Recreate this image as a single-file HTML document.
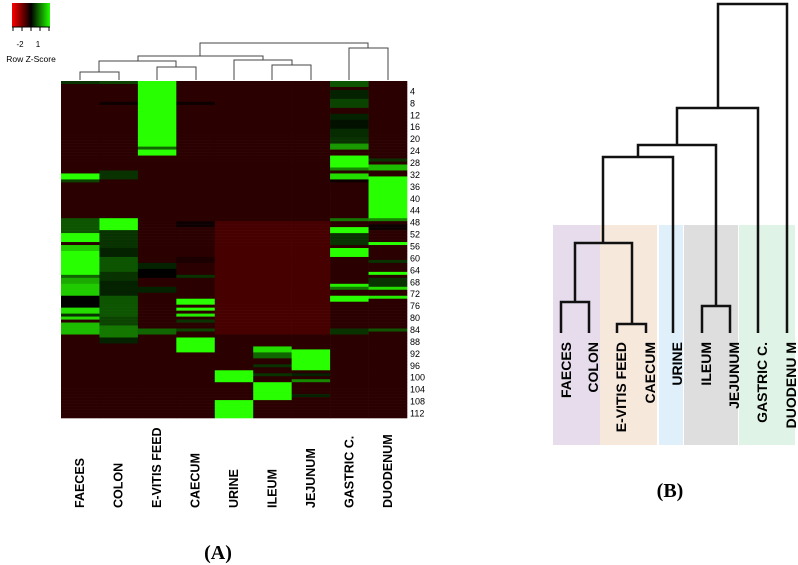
<!DOCTYPE html>
<html><head><meta charset="utf-8"><style>
html,body{margin:0;padding:0;background:#fff;width:798px;height:565px;overflow:hidden}
svg{display:block}
</style></head><body>
<svg id="fig" width="798" height="565" xmlns="http://www.w3.org/2000/svg">
<defs><linearGradient id="lg" x1="0" x2="1"><stop offset="0" stop-color="#ff0000"/><stop offset="0.5" stop-color="#000"/><stop offset="1" stop-color="#22ff00"/></linearGradient></defs>
<g>
<rect x="12" y="3" width="38" height="24" fill="url(#lg)"/>
<g stroke="#000" stroke-width="1"><line x1="12" y1="27" x2="50" y2="27"/><line x1="13" y1="27" x2="13" y2="31"/><line x1="22" y1="27" x2="22" y2="31"/><line x1="31" y1="27" x2="31" y2="31"/><line x1="40" y1="27" x2="40" y2="31"/><line x1="49" y1="27" x2="49" y2="31"/></g>
<text x="20" y="47" font-family="Liberation Sans, sans-serif" font-size="8" text-anchor="middle">-2</text>
<text x="38" y="47" font-family="Liberation Sans, sans-serif" font-size="8" text-anchor="middle">1</text>
<text x="31" y="62" font-family="Liberation Sans, sans-serif" font-size="8.5" text-anchor="middle">Row Z-Score</text>
</g>
<g id="heat"></g>
<g id="rowlabels"></g>
<g id="collabels"></g>
<g fill="none" stroke="#444" stroke-width="1">
<path d="M80 80V72H119V80M157 80V67H196V80M99 72V61H176V67M272 80V65H311V80M234 80V60H292V65M138 61V56H263V60M349 80V48H388V80M200 56V43H368V48"/>
</g>
<text x="218" y="559" font-family="Liberation Serif, serif" font-size="20" font-weight="bold" text-anchor="middle">(A)</text>

<g>
<rect x="553" y="225" width="47" height="220" fill="#e6dcec"/>
<rect x="600" y="225" width="57" height="220" fill="#f7e8dc"/>
<rect x="659" y="225" width="24" height="220" fill="#dff0fa"/>
<rect x="684" y="225" width="54" height="220" fill="#dedede"/>
<rect x="739" y="225" width="56" height="220" fill="#dff3e6"/>
<path d="M561 333V302H589V333M617 333V324H646V333M575 302V243H632V324M603 243V157H673V333M638 157V145H716V306M702 333V306H730V333M677 145V108H758V333M718 108V4H787V333" fill="none" stroke="#111" stroke-width="2.5"/>
<g font-family="Liberation Sans, sans-serif" font-size="14" font-weight="bold" text-anchor="end">
<text transform="translate(571,342) rotate(-90)">FAECES</text>
<text transform="translate(598,342) rotate(-90)">COLON</text>
<text transform="translate(626,342) rotate(-90)">E-VITIS FEED</text>
<text transform="translate(655,342) rotate(-90)">CAECUM</text>
<text transform="translate(682,342) rotate(-90)">URINE</text>
<text transform="translate(711,342) rotate(-90)">ILEUM</text>
<text transform="translate(739,342) rotate(-90)">JEJUNUM</text>
<text transform="translate(767,342) rotate(-90)">GASTRIC C.</text>
<text transform="translate(796,342) rotate(-90)">DUODENU M</text>
</g>
<text x="670" y="497" font-family="Liberation Serif, serif" font-size="20" font-weight="bold" text-anchor="middle">(B)</text>
</g>
</svg>
<script>
const columns = ["FAECES","COLON","E-VITIS FEED","CAECUM","URINE","ILEUM","JEJUNUM","GASTRIC C.","DUODENUM"];
const rowTicks = [4,8,12,16,20,24,28,32,36,40,44,48,52,56,60,64,68,72,76,80,84,88,92,96,100,104,108,112];
const nRows = 113;
const baseZ = -0.33;
// segments per column: [startRow, endRow, z]
const segFaeces = [[1,1,0.3],[32,33,1.5],[34,34,0.4],[47,51,0.5],[52,54,1.5],[56,57,1.2],[58,65,1.5],[66,66,0.6],[67,68,1.0],[69,72,1.2],[73,76,0.0],[77,78,1.3],[79,79,0.3],[80,80,1.3],[82,85,1.1]];
const segColon = [[1,1,0.4],[8,8,-0.1],[31,33,0.3],[47,50,1.5],[51,56,0.3],[57,59,0.2],[60,64,0.5],[65,67,0.3],[68,72,0.2],[73,79,0.5],[80,82,0.4],[83,86,0.7],[87,88,0.2]];
const segEvitis = [[1,22,1.5],[23,23,0.6],[24,25,1.5],[62,63,0.2],[64,66,0.0],[70,71,0.2],[84,85,0.6]];
const segCaecum = [[8,8,-0.1],[48,49,-0.1],[60,61,-0.2],[66,66,0.3],[74,75,1.5],[77,77,1.5],[79,79,1.4],[81,81,0.3],[84,84,0.4],[87,91,1.5]];
const segUrine = [[48,85,-0.55],[98,101,1.5],[108,113,1.5]];
const segIleum = [[48,85,-0.55],[90,91,1.3],[92,93,0.6],[96,96,0.3],[99,99,0.3],[102,107,1.5]];
const segJejunum = [[48,85,-0.55],[91,97,1.5],[99,99,0.2],[101,101,0.8],[106,106,0.2]];
const segGastric = [[1,2,0.5],[4,6,0.2],[7,9,0.4],[12,13,0.2],[14,16,0.1],[17,19,0.25],[20,21,0.3],[22,23,0.9],[26,29,1.5],[30,30,0.8],[32,33,1.3],[34,34,-0.1],[47,47,0.7],[50,51,1.5],[52,55,0.3],[57,59,1.5],[69,69,1.4],[70,70,0.7],[73,74,1.5],[84,85,0.3]];
const segDuodenum = [[27,27,0.3],[29,30,1.1],[33,46,1.5],[47,47,0.8],[49,50,-0.1],[55,55,1.5],[61,61,0.3],[65,65,1.5],[67,69,0.3],[70,70,1.3],[73,73,1.4],[84,84,0.5]];
const segments = [segFaeces,segColon,segEvitis,segCaecum,segUrine,segIleum,segJejunum,segGastric,segDuodenum];

const X0=61, X1=407, Y0=81, Y1=418;
const cw=(X1-X0)/columns.length, rh=(Y1-Y0)/nRows;
const xCol=i=>X0+i*cw;
const yRow=r=>Y0+(r-1)*rh;
function color(z){
  if(z>=0){const g=Math.round(Math.min(1,z/1.5)*255);const r=Math.round(Math.min(1,z/1.5)*40);return `rgb(${r},${g},0)`;}
  const r=Math.round(Math.min(1,-z/2)*255);return `rgb(${r},0,0)`;
}
const NS="http://www.w3.org/2000/svg";
const heat=document.getElementById('heat');
columns.forEach((c,ci)=>{
  const vals=new Array(nRows+1).fill(baseZ);
  segments[ci].forEach(s=>{for(let r=s[0];r<=s[1];r++)vals[r]=s[2];});
  for(let r=1;r<=nRows;r++){
    const el=document.createElementNS(NS,'rect');
    el.setAttribute('x',xCol(ci).toFixed(2));
    el.setAttribute('y',yRow(r).toFixed(2));
    el.setAttribute('width',(cw+0.3).toFixed(2));
    el.setAttribute('height',(rh+0.3).toFixed(2));
    el.setAttribute('fill',color(vals[r]));
    
    
    heat.appendChild(el);
  }
});
const rl=document.getElementById('rowlabels');
rowTicks.forEach(t=>{
  const el=document.createElementNS(NS,'text');
  el.setAttribute('x',410);
  el.setAttribute('y',(yRow(t)+rh/2+3).toFixed(2));
  el.setAttribute('font-family','Liberation Sans, sans-serif');
  el.setAttribute('font-size','9');
  el.textContent=t;
  
  
  rl.appendChild(el);
});
const cl=document.getElementById('collabels');
columns.forEach((c,ci)=>{
  const el=document.createElementNS(NS,'text');
  const x=xCol(ci)+cw/2+4;
  el.setAttribute('transform',`translate(${x.toFixed(1)},508) rotate(-90)`);
  el.setAttribute('font-family','Liberation Sans, sans-serif');
  el.setAttribute('font-size','12.5');
  el.setAttribute('font-weight','bold');
  el.textContent=c;
  
  
  cl.appendChild(el);
});
</script>
</body></html>
